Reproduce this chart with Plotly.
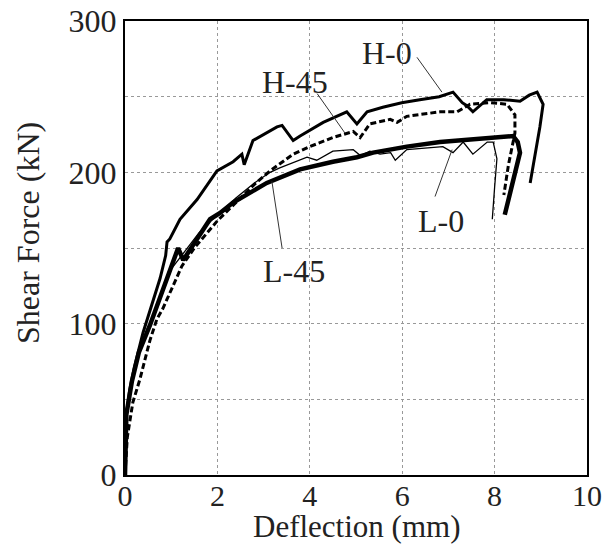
import plotly.graph_objects as go

# ---- data (deflection mm, shear force kN) ----
h0_x = [0, 0.03, 0.1, 0.2, 0.39, 0.6, 0.76, 0.88, 0.91, 0.97, 1.19, 1.56, 1.99, 2.34, 2.53, 2.58, 2.77,
        3.29, 3.4, 3.64, 3.79, 4.29, 4.59, 4.8, 5.02, 5.24, 5.58, 5.99, 6.38, 6.8, 7.1, 7.3, 7.4, 7.53,
        7.83, 8.2, 8.55, 8.75, 8.92, 9.05, 8.98, 8.77]
h0_y = [0, 40, 56, 71, 94, 114, 130, 145, 154, 156, 169, 182, 201, 207, 212, 205, 221,
        230, 231, 221, 224, 233, 237, 240, 232, 240, 243, 246, 248, 250, 253, 246, 244, 240,
        248, 248, 247, 251, 253, 245, 230, 193]

h45_x = [0, 0.05, 0.17, 0.32, 0.54, 0.69, 0.82, 1.04, 1.23, 1.5, 2.0, 2.5, 2.8, 3.14, 3.64, 4.0, 4.5,
         4.94, 5.09, 5.3, 5.74, 5.89, 6.1, 6.82, 7.19, 7.47, 7.9, 8.27, 8.44, 8.44, 8.3, 8.2]
h45_y = [0, 25, 48, 63, 89, 103, 110, 125, 138, 150, 168, 183, 192, 201, 212, 217, 223,
         227, 223, 232, 235, 233, 237, 240, 240, 245, 246, 245, 238, 226, 205, 185]

l0_x = [0, 0.03, 0.15, 0.3, 0.54, 0.76, 1.0, 1.3, 1.6, 2.0, 2.4, 2.8, 3.14, 3.35, 3.6, 3.94, 4.15,
        4.5, 4.94, 5.1, 5.3, 5.52, 5.75, 5.85, 6.1, 6.5, 6.88, 7.1, 7.32, 7.53, 7.84, 7.97, 8.05,
        8.0, 7.95]
l0_y = [0, 40, 64, 82, 100, 119, 136, 148, 160, 172, 183, 193, 200, 203, 206, 210, 208,
        214, 215, 211, 214, 212, 213, 208, 215, 216, 217, 213, 220, 212, 220, 220, 209,
        190, 169]

l45_x = [0, 0.03, 0.15, 0.3, 0.54, 0.76, 0.95, 1.15, 1.26, 1.56, 1.84, 2.05, 2.34, 3.07, 3.79, 4.5,
         5.02, 5.37, 6.1, 6.82, 7.53, 8.05, 8.4, 8.5, 8.55, 8.22]
l45_y = [0, 40, 62, 81, 99, 117, 134, 150, 142, 156, 169, 173, 180, 193, 202, 207,
         210, 213, 217, 220, 222, 223, 224, 220, 213, 172]

labels = ["H-0", "H-45", "L-0", "L-45"]
label_pos = [(5.67, 279), (3.68, 260), (6.84, 168), (3.66, 135)]
leaders = [((6.32, 276), (6.86, 253)), ((4.16, 252), (4.76, 226)),
           ((6.71, 184), (7.08, 215)), ((3.40, 150), (3.18, 194))]

x_ticks = [0, 2, 4, 6, 8, 10]
y_ticks = [0, 100, 200, 300]
x_title = "Deflection (mm)"
y_title = "Shear Force (kN)"

FONT = "Liberation Serif"
FS = 32
TXT = "#222"

fig = go.Figure()
fig.add_trace(go.Scatter(x=h0_x, y=h0_y, mode="lines", name="H-0",
                         line=dict(color="black", width=3)))
fig.add_trace(go.Scatter(x=h45_x, y=h45_y, mode="lines", name="H-45",
                         line=dict(color="black", width=3, dash="6px,3px")))
fig.add_trace(go.Scatter(x=l0_x, y=l0_y, mode="lines", name="L-0",
                         line=dict(color="black", width=1.3)))
fig.add_trace(go.Scatter(x=l45_x, y=l45_y, mode="lines", name="L-45",
                         line=dict(color="black", width=4.5)))

for txt, (x, y) in zip(labels, label_pos):
    fig.add_annotation(x=x, y=y, text=txt, showarrow=False,
                       font=dict(family=FONT, size=FS, color=TXT))
for (a, b) in leaders:
    fig.add_shape(type="line", x0=a[0], y0=a[1], x1=b[0], y1=b[1],
                  line=dict(color="#333", width=1))

# axis titles as annotations for exact placement
fig.add_annotation(xref="paper", yref="paper", x=0.502, y=-0.113, text=x_title,
                   showarrow=False, xanchor="center", yanchor="middle",
                   font=dict(family=FONT, size=31, color=TXT))
fig.add_annotation(xref="paper", yref="paper", x=-0.21, y=0.533, text=y_title,
                   showarrow=False, xanchor="center", yanchor="middle", textangle=-90,
                   font=dict(family=FONT, size=FS, color=TXT))

grid = dict(gridcolor="#999", griddash="dot", gridwidth=1)
fig.update_xaxes(range=[0, 10], tickvals=x_ticks, showgrid=True, **grid,
                 showline=True, linecolor="black", linewidth=2, mirror=True,
                 zeroline=False, ticks="", automargin=False, ticklabelstandoff=-7,
                 tickfont=dict(family=FONT, size=30, color=TXT))
fig.update_yaxes(range=[0, 300], tickvals=y_ticks, showgrid=True, **grid,
                 minor=dict(dtick=50, showgrid=True, **grid),
                 showline=True, linecolor="black", linewidth=2, mirror=True,
                 zeroline=False, ticks="", automargin=False,
                 tickfont=dict(family=FONT, size=FS, color=TXT))
fig.update_layout(width=608, height=548, showlegend=False,
                  plot_bgcolor="white", paper_bgcolor="white",
                  margin=dict(l=125, r=21, t=21, b=73))
fig.write_html("out.html", config={"displayModeBar": False},
               post_script="document.body.style.margin='0';")
